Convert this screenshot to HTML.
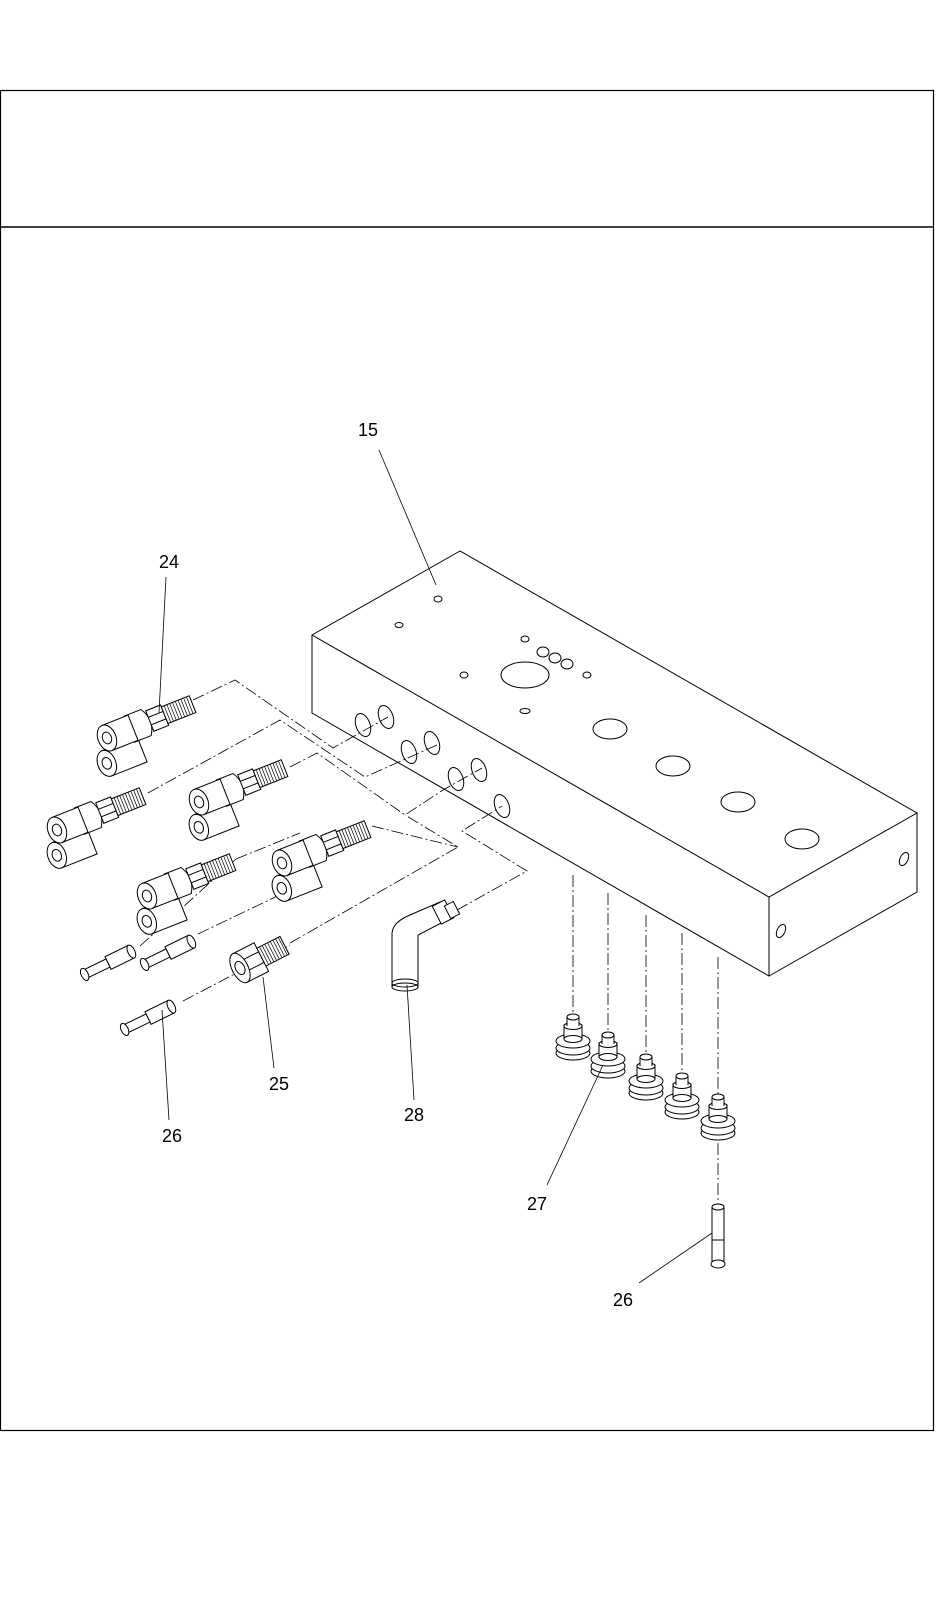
<!DOCTYPE html>
<html><head><meta charset="utf-8"><style>
html,body{margin:0;padding:0;background:#fff;}
svg{display:block;}
text{font-family:"Liberation Sans",sans-serif;font-size:18px;fill:#000;}
</style></head><body>
<svg width="944" height="1607" viewBox="0 0 944 1607" xmlns="http://www.w3.org/2000/svg">
<defs>
<g id="yf" fill="#fff" stroke="#000" stroke-width="1">
  <rect x="-9.5" y="10" width="38" height="27"/>
  <ellipse cx="-9.5" cy="23.5" rx="9" ry="13.5"/>
  <ellipse cx="-9.5" cy="23.5" rx="4.5" ry="6"/>
  <path d="M24 -14 L42 -14 Q51 0 42 14 L24 14 Z"/>
  <rect x="0" y="-13.5" width="28" height="27"/>
  <ellipse cx="0" cy="0" rx="9" ry="13.5"/>
  <ellipse cx="0" cy="0" rx="4.5" ry="6"/>
  <rect x="46" y="-11" width="16" height="22"/>
  <line x1="46" y1="-4" x2="62" y2="-4"/><line x1="46" y1="4" x2="62" y2="4"/>
  <rect x="62" y="-9" width="30" height="18"/>
  <path d="M65 -9v18M68 -9v18M71 -9v18M74 -9v18M77 -9v18M80 -9v18M83 -9v18M86 -9v18M89 -9v18" stroke-width="0.7"/>
</g>
<g id="valve" fill="#fff" stroke="#000" stroke-width="1">
  <ellipse cx="0" cy="36" rx="17" ry="7"/>
  <ellipse cx="0" cy="31" rx="17" ry="7"/>
  <ellipse cx="0" cy="24" rx="17" ry="7"/>
  <rect x="-9" y="8" width="18" height="14"/>
  <ellipse cx="0" cy="22" rx="9" ry="3.5"/>
  <rect x="-6" y="0" width="12" height="9"/>
  <ellipse cx="0" cy="9" rx="9" ry="3.5"/>
  <rect x="-6" y="0" width="12" height="9" stroke="none"/>
  <line x1="-6" y1="0" x2="-6" y2="9"/><line x1="6" y1="0" x2="6" y2="9"/>
  <ellipse cx="0" cy="0" rx="6" ry="3"/>
</g>
<g id="pin" fill="#fff" stroke="#000" stroke-width="1">
  <rect x="0" y="-7" width="26" height="14"/>
  <ellipse cx="26" cy="0" rx="3.5" ry="7"/>
  <rect x="-24" y="-4.5" width="24" height="9"/>
  <ellipse cx="-26" cy="0" rx="3.5" ry="6.5"/>
</g>
</defs>

<!-- frame -->
<rect x="0.5" y="90.5" width="933" height="1340" fill="none" stroke="#000" stroke-width="1.2"/>
<line x1="0" y1="227" x2="934" y2="227" stroke="#000" stroke-width="1.5"/>

<!-- block -->
<g fill="none" stroke="#000" stroke-width="1">
  <path d="M460 551 L312 635 L769 897 L917 813 Z"/>
  <path d="M312 635 L312 713 L769 976 L769 897"/>
  <path d="M769 976 L917 892 L917 813"/>
  <ellipse cx="438" cy="599" rx="4" ry="3"/>
  <ellipse cx="399" cy="625" rx="4" ry="2.5"/>
  <ellipse cx="525" cy="639" rx="4" ry="3"/>
  <ellipse cx="543" cy="652" rx="6" ry="5"/>
  <ellipse cx="555" cy="658" rx="6" ry="5"/>
  <ellipse cx="567" cy="664" rx="6" ry="5"/>
  <ellipse cx="464" cy="675" rx="4" ry="3"/>
  <ellipse cx="587" cy="675" rx="4" ry="3"/>
  <ellipse cx="525" cy="675" rx="24" ry="13"/>
  <ellipse cx="525" cy="711" rx="5" ry="2.5"/>
  <ellipse cx="610" cy="729" rx="17" ry="10"/>
  <ellipse cx="673" cy="766" rx="17" ry="10"/>
  <ellipse cx="738" cy="802" rx="17" ry="10"/>
  <ellipse cx="802" cy="839" rx="17" ry="10"/>
  <ellipse cx="363" cy="725" rx="7" ry="12" transform="rotate(-20 363 725)"/>
  <ellipse cx="386" cy="717" rx="7" ry="12" transform="rotate(-20 386 717)"/>
  <ellipse cx="409" cy="752" rx="7" ry="12" transform="rotate(-20 409 752)"/>
  <ellipse cx="432" cy="743" rx="7" ry="12" transform="rotate(-20 432 743)"/>
  <ellipse cx="456" cy="779" rx="7" ry="12" transform="rotate(-20 456 779)"/>
  <ellipse cx="479" cy="770" rx="7" ry="12" transform="rotate(-20 479 770)"/>
  <ellipse cx="502" cy="806" rx="7" ry="12" transform="rotate(-20 502 806)"/>
  <ellipse cx="781" cy="931" rx="4" ry="7" transform="rotate(25 781 931)"/>
  <ellipse cx="904" cy="859" rx="4" ry="7" transform="rotate(25 904 859)"/>
</g>

<!-- center lines -->
<g fill="none" stroke="#000" stroke-width="0.8" stroke-dasharray="12 3 2 3">
  <polyline points="193,700 235,680 333,748 388,717"/>
  <polyline points="148,793 280,720 365,777 437,745"/>
  <polyline points="290,767 317,753 405,815 443,790 482,768"/>
  <polyline points="236,859 300,833"/>
  <polyline points="372,826 458,847"/>
  <polyline points="183,1001 290,945"/>
  <polyline points="290,943 458,847 405,815"/>
  <polyline points="457,910 527,871 462,831 502,806"/>
  <polyline points="140,946 236,859"/>
  <polyline points="198,934 290,890"/>
  <line x1="573" y1="875" x2="573" y2="1015"/>
  <line x1="608" y1="893" x2="608" y2="1033"/>
  <line x1="646" y1="915" x2="646" y2="1055"/>
  <line x1="682" y1="933" x2="682" y2="1074"/>
  <line x1="718" y1="957" x2="718" y2="1095"/>
  <line x1="718" y1="1143" x2="718" y2="1205"/>
</g>

<!-- Y fittings -->
<use href="#yf" transform="translate(107,738) rotate(-21.6)"/>
<use href="#yf" transform="translate(57,830) rotate(-21.6)"/>
<use href="#yf" transform="translate(199,802) rotate(-21.6)"/>
<use href="#yf" transform="translate(147,896) rotate(-21.6)"/>
<use href="#yf" transform="translate(282,863) rotate(-21.6)"/>

<!-- pins -->
<use href="#pin" transform="translate(108,963) rotate(-26)"/>
<use href="#pin" transform="translate(168,953) rotate(-26)"/>
<use href="#pin" transform="translate(148,1018) rotate(-26)"/>

<!-- fitting 25 -->
<g fill="#fff" stroke="#000" stroke-width="1" transform="translate(240,968) rotate(-27)">
  <rect x="0" y="-16" width="24" height="32"/>
  <line x1="0" y1="-6" x2="24" y2="-6"/><line x1="0" y1="6" x2="24" y2="6"/>
  <rect x="24" y="-10" width="26" height="20"/>
  <path d="M27 -10v20M30 -10v20M33 -10v20M36 -10v20M39 -10v20M42 -10v20M45 -10v20M48 -10v20" stroke-width="0.7"/>
  <ellipse cx="0" cy="0" rx="8" ry="16"/>
  <ellipse cx="0" cy="0" rx="4.5" ry="7"/>
</g>

<!-- elbow 28 -->
<g fill="#fff" stroke="#000" stroke-width="1">
  <path d="M392 933 Q393 922 410 915 L440 902 L447 920 L418 935 L418 987 L392 987 Z"/>
  <ellipse cx="405" cy="987" rx="13" ry="4"/>
  <ellipse cx="405" cy="983" rx="13" ry="4" fill="none"/>
  <rect x="436" y="902" width="14" height="20" transform="rotate(-27 443 912)"/>
  <rect x="447" y="903" width="10" height="14" transform="rotate(-27 452 910)"/>
</g>

<!-- valves 27 -->
<use href="#valve" transform="translate(573,1017)"/>
<use href="#valve" transform="translate(608,1035)"/>
<use href="#valve" transform="translate(646,1057)"/>
<use href="#valve" transform="translate(682,1076)"/>
<use href="#valve" transform="translate(718,1097)"/>

<!-- vertical pin 26 -->
<g fill="#fff" stroke="#000" stroke-width="1">
  <rect x="712" y="1233" width="12" height="28"/>
  <rect x="712" y="1207" width="12" height="33"/>
  <ellipse cx="718" cy="1207" rx="6" ry="3"/>
  <ellipse cx="718" cy="1264" rx="7" ry="4"/>
</g>

<!-- leaders -->
<g stroke="#000" stroke-width="0.8" fill="none">
  <line x1="379" y1="450" x2="436" y2="585"/>
  <line x1="166" y1="577" x2="159" y2="713"/>
  <line x1="274" y1="1068" x2="263" y2="977"/>
  <line x1="169" y1="1120" x2="162" y2="1010"/>
  <line x1="414" y1="1100" x2="407" y2="985"/>
  <line x1="547" y1="1185" x2="603" y2="1065"/>
  <line x1="639" y1="1283" x2="712" y2="1233"/>
</g>

<!-- labels -->
<g text-anchor="middle">
  <text x="368" y="436">15</text>
  <text x="169" y="568">24</text>
  <text x="279" y="1090">25</text>
  <text x="172" y="1142">26</text>
  <text x="414" y="1121">28</text>
  <text x="537" y="1210">27</text>
  <text x="623" y="1306">26</text>
</g>
</svg>
</body></html>
